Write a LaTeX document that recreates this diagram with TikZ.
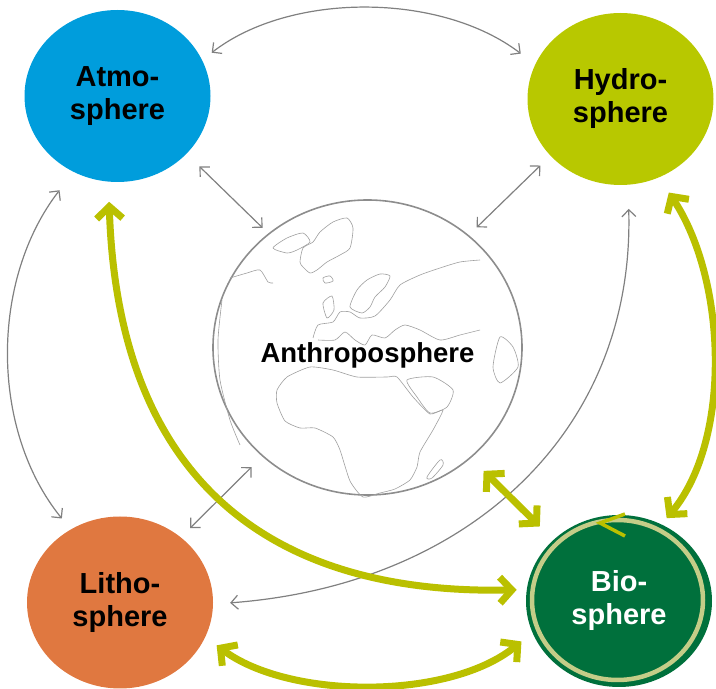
\documentclass[tikz,border=0pt]{standalone}
\usepackage{fontspec}
\setmainfont{Liberation Sans}
\usetikzlibrary{arrows.meta, shapes.geometric}

\definecolor{atmoblue}{RGB}{0,157,220}
\definecolor{hydrolime}{RGB}{184,200,0}
\definecolor{lithoorange}{RGB}{224,120,64}
\definecolor{biogreen}{RGB}{0,112,60}
\definecolor{ringkhaki}{RGB}{196,205,136}
\definecolor{arrowlime}{RGB}{186,192,0}
\definecolor{linegray}{RGB}{128,128,128}

\tikzset{
  sphere/.style={ellipse, minimum width=186pt, minimum height=172pt,
    inner sep=0pt, align=center, font=\fontsize{29}{33}\selectfont\bfseries},
  greylink/.style={linegray, line width=1.2pt,
    {Straight Barb[length=7pt,width=14pt]}-{Straight Barb[length=7pt,width=14pt]}},
  greenlink/.style={arrowlime, line width=7pt,
    {Straight Barb[length=12pt,width=26pt]}-{Straight Barb[length=12pt,width=26pt]}},
  coast/.style={draw=gray!75, line width=0.6pt},
}

\begin{document}
\begin{tikzpicture}[x=1pt,y=1pt]
\useasboundingbox (0,0) rectangle (716,689);

%sfere
\node[sphere, fill=atmoblue] (atmo) at (117.5,593) {Atmo-\\sphere};
\node[sphere, fill=hydrolime] (hydro) at (620.5,590) {Hydro-\\sphere};
\node[sphere, fill=lithoorange] (litho) at (120,86.5) {Litho-\\sphere};
\node[sphere, fill=biogreen, text=white] (bio) at (619,88) {Bio-\\sphere};
\draw[ringkhaki, line width=4.5pt] ([xshift=-1.5pt,yshift=1pt]bio.center) ellipse (85.5 and 80);
\draw[arrowlime, line width=3.5pt] (625,175) -- (600,166) -- (625,153);

%zemlja
\node[ellipse, draw=linegray!90, line width=1.6pt, minimum width=309pt,
  minimum height=295pt, inner sep=0pt, text height=37pt, text depth=6pt,
  font=\fontsize{27.5}{30}\selectfont\bfseries] (anthro) at (367.5,341.5) {Anthroposphere};

    %kontinenti
    \draw[coast] plot[smooth cycle, tension=0.4] coordinates {(300,427) (303,441) (313,447)
      (320,457) (333,467) (347,471) (353,461) (350,441) (340,434) (327,427) (317,419) (310,416) (303,422)};
    \draw[coast] plot[smooth cycle, tension=0.4] coordinates {(273,441) (287,451) (303,456)
      (310,447) (297,439) (287,436)};
    \draw[coast] plot[smooth cycle, tension=0.5] coordinates {(323,411) (330,413) (333,408) (325,406)};
    \draw[coast] plot[smooth cycle, tension=0.4] coordinates {(350,382) (357,399) (367,409)
      (380,415) (390,413) (385,402) (375,392) (370,382) (362,376)};
    \draw[coast] plot[smooth cycle, tension=0.4] coordinates {(323,386) (332,393) (334,379) (327,371)};
    \draw[coast] plot[smooth, tension=0.4] coordinates {(313,351) (318,364) (333,367) (340,377)
      (350,377) (360,371) (375,373) (390,389) (400,404) (420,414) (440,421) (460,427) (480,429)};
    \draw[coast] plot[smooth, tension=0.4] coordinates {(318,349) (335,349) (345,357) (355,349)
      (365,344) (372,354) (385,351) (395,359) (405,364) (420,359) (440,349) (460,354) (480,359)};
    \draw[coast] plot[smooth cycle, tension=0.35] coordinates {(287,312) (310,322) (333,319)
      (357,312) (387,312) (397,312) (413,292) (430,275) (443,279) (433,259) (420,237) (417,222)
      (410,209) (395,200) (380,196) (363,192) (350,208) (340,239) (333,252) (315,261) (300,261)
      (285,268) (277,286) (277,299)};
    \draw[coast] plot[smooth cycle, tension=0.4] coordinates {(407,309) (433,312) (453,299)
      (447,282) (430,276) (417,292)};
    \draw[coast] plot[smooth cycle, tension=0.4] coordinates {(500,352) (513,342) (518,322)
      (500,306) (493,322)};
    \draw[coast] plot[smooth cycle, tension=0.5] coordinates {(427,212) (440,229) (443,224) (432,211)};
    \draw[coast] plot[smooth, tension=0.4] coordinates {(230,411) (247,416) (260,419) (268,407) (273,406)};
    \draw[coast] plot[smooth, tension=0.4] coordinates {(222,389) (218,349) (220,309) (230,269) (240,244)};

%sive veze
\draw[greylink, shorten <=12pt, shorten >=18pt] (atmo.23) .. controls (290,697) and (440,697) .. (hydro.158);
\draw[greylink, shorten <=18pt, shorten >=8pt] (atmo.320) -- (anthro.131);
\draw[greylink, shorten <=14pt, shorten >=11pt] (hydro.219) -- (anthro.48);
\draw[greylink, shorten <=23pt, shorten >=14pt] (atmo.240) .. controls (-10,409) and (-10,259) .. (litho.124);
\draw[greylink, shorten <=13pt, shorten >=15pt] (litho.47) -- (anthro.226);
\draw[greylink, shorten <=17pt, shorten >=24pt] (litho.359) .. controls (470,104) and (635,259) .. (hydro.275);

%zelene veze
\draw[greenlink, shorten <=20pt, shorten >=10pt] (atmo.264) .. controls (118,209) and (270,94) .. (bio.173);
\draw[greenlink, shorten <=18pt, shorten >=8pt] (hydro.296) .. controls (727,409) and (732,249) .. (bio.61);
\draw[greenlink, shorten <=18pt, shorten >=19pt] (anthro.313) -- (bio.137);
\draw[greenlink, shorten <=14pt, shorten >=14pt] (litho.338) .. controls (290,-11) and (450,-11) .. (bio.200);
\end{tikzpicture}
\end{document}
